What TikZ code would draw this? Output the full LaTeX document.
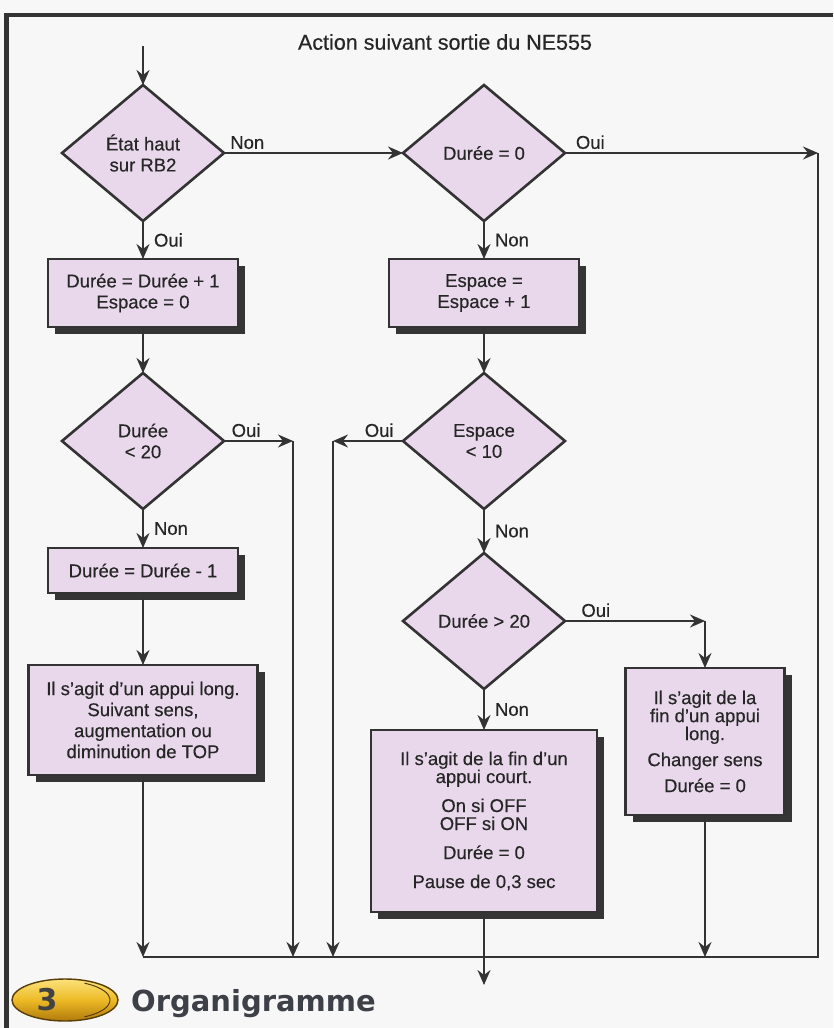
\documentclass[tikz,border=0pt]{standalone}
\usepackage{fontspec}
\setmainfont{Liberation Sans}[FakeBold=0.4]
\newfontfamily\badgefont{DejaVu Sans}
\usetikzlibrary{shapes.geometric, arrows.meta, positioning, shadows}
\definecolor{cLine}{HTML}{333333}
\definecolor{cLilac}{HTML}{E9D8EC}
\definecolor{cShadow}{HTML}{353535}
\definecolor{cText}{HTML}{262626}
\definecolor{cPaper}{HTML}{F6F7F6}
\definecolor{cGold}{HTML}{EDBA26}
\definecolor{cGoldLight}{HTML}{FBE27A}
\definecolor{cGoldDark}{HTML}{B07A0C}
\definecolor{cBadge}{HTML}{424242}
\definecolor{cTitle}{HTML}{3E4048}
\newcommand{\flowfont}{\fontsize{18.5}{21}\selectfont}
\newcommand{\tightfont}{\fontsize{18.5}{18}\selectfont}
\tikzset{
  decision/.style={
    diamond, draw=cLine, line width=2.6pt, fill=cLilac, outer sep=0pt,
    inner sep=0pt, minimum width=162pt, minimum height=136pt,
    align=center, font=\flowfont, text=cText
  },
  process/.style={
    rectangle, draw=cLine, line width=2.6pt, fill=cLilac, outer sep=0pt,
    inner sep=0pt, align=center, font=\flowfont, text=cText,
    general shadow={fill=cShadow, shadow xshift=7pt, shadow yshift=-7pt}
  },
  arrow/.style={-{Stealth[length=15pt, width=13pt, inset=5pt]}, line width=2pt, cLine},
  link/.style={line width=2pt, cLine},
  lbl/.style={font=\flowfont, text=cText, inner sep=3pt},
}

\begin{document}
\begin{tikzpicture}[x=1pt, y=-1pt, node distance=38pt]

  \useasboundingbox[fill=cPaper] (0,0) rectangle (833,1028);

  % Frame and title
  \draw[cLine, line width=4.5pt] (6.5,1028) -- (6.5,15) -- (833,15);
  \node[font=\fontsize{21.5}{24}\selectfont, text=cText] (title) at (445,42)
    {Action suivant sortie du NE555};

  % Left column
  \node[decision] (dHaut) at (143,153) {État haut\\sur RB2};
  \node[process, minimum width=190pt, minimum height=68pt, below=38pt of dHaut] (bInc)
    {Durée = Durée + 1\\Espace = 0};
  \node[decision, below=46pt of bInc] (dCourt) {Durée\\< 20};
  \node[process, minimum width=190pt, minimum height=45pt, below=39pt of dCourt] (bDec)
    {Durée = Durée - 1};
  \node[process, minimum width=229pt, minimum height=110pt, below=72pt of bDec] (bLong) {
    Il s'agit d'un appui long.\\
    Suivant sens,\\
    augmentation ou\\
    diminution de TOP
  };

  % Right column
  \node[decision, right=179pt of dHaut] (dZero) {Durée = 0};
  \node[process, minimum width=190pt, minimum height=68pt, below=38pt of dZero] (bEsp)
    {Espace =\\Espace + 1};
  \node[decision, below=46pt of bEsp] (dEsp) {Espace\\< 10};
  \node[decision, below=44pt of dEsp] (dLong) {Durée > 20};
  \node[process, font=\tightfont, minimum width=226pt, minimum height=182pt,
        below=41pt of dLong] (bCourt) {
    Il s'agit de la fin d'un\\
    appui court.\\[11pt]
    On si OFF\\
    OFF si ON\\[11pt]
    Durée = 0\\[11pt]
    Pause de 0,3 sec
  };

  % Turning points
  \coordinate[above=39pt of dHaut] (in);
  \coordinate[right=253pt of dZero] (kZero);
  \coordinate[right=69pt of dCourt] (kCourt);
  \coordinate[left=70pt of dEsp] (kEsp);
  \coordinate[right=140pt of dLong] (kLong);
  \coordinate[below=182pt of bLong] (jLeft);
  \coordinate[below=73pt of bCourt] (out);

  \node[process, font=\tightfont, minimum width=159pt, minimum height=147pt,
        below=47pt of kLong] (bFin) {
    Il s'agit de la\\
    fin d'un appui\\
    long.\\[8pt]
    Changer sens\\[8pt]
    Durée = 0
  };

  % Arrows
  \draw[arrow] (in) -- (dHaut);
  \draw[arrow] (dHaut) -- node[lbl, above, pos=0.13] {Non} (dZero);
  \draw[arrow] (dZero) -- node[lbl, above, pos=0.1] {Oui} (kZero);
  \draw[link] (kZero) -- (kZero |- jLeft) -- (jLeft);
  \draw[arrow] (dHaut) -- node[lbl, right=7pt] {Oui} (bInc);
  \draw[arrow] (bInc) -- (dCourt);
  \draw[arrow] (dCourt) -- node[lbl, above, pos=0.32] {Oui} (kCourt);
  \draw[arrow] (kCourt) -- (kCourt |- jLeft);
  \draw[arrow] (dCourt) -- node[lbl, right=7pt] {Non} (bDec);
  \draw[arrow] (bDec) -- (bLong);
  \draw[arrow] (bLong) -- (jLeft);
  \draw[arrow] (dZero) -- node[lbl, right=7pt] {Non} (bEsp);
  \draw[arrow] (bEsp) -- (dEsp);
  \draw[arrow] (dEsp) -- node[lbl, above, pos=0.34] {Oui} (kEsp);
  \draw[arrow] (kEsp) -- (kEsp |- jLeft);
  \draw[arrow] (dEsp) -- node[lbl, right=7pt] {Non} (dLong);
  \draw[arrow] (dLong) -- node[lbl, above, pos=0.22] {Oui} (kLong);
  \draw[arrow] (kLong) -- (bFin);
  \draw[arrow] (dLong) -- node[lbl, right=7pt] {Non} (bCourt);
  \draw[arrow] (bFin) -- (bFin |- jLeft);
  \draw[arrow] (bCourt) -- (out);

  % Footer badge
  \draw[cGoldDark!50!black, line width=1.4pt, top color=cGoldLight, bottom color=cGoldDark,
        middle color=cGold] (65,1000) ellipse [x radius=53pt, y radius=21pt];
  \draw[cGoldDark!50!black, line width=1pt]
    ([shift={(62,1000)}]-62:48pt and 19pt) arc[start angle=-62, end angle=62, x radius=48pt, y radius=19pt];
  \node[font=\badgefont\bfseries\fontsize{30}{30}\selectfont, text=cBadge] (num) at (47,1000) {3};
  \node[anchor=base west, inner sep=0pt, font=\badgefont\bfseries\fontsize{29}{30}\selectfont,
        text=cTitle] (caption) at (131,1011) {Organigramme};

\end{tikzpicture}
\end{document}
